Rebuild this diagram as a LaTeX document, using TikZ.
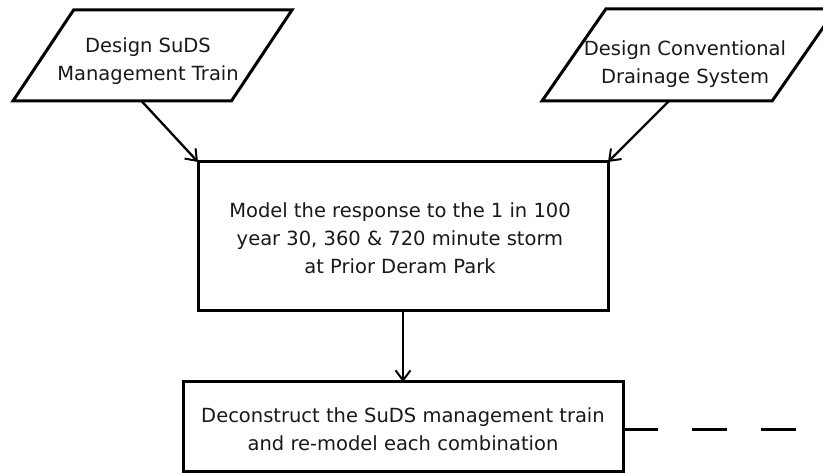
\documentclass[tikz,border=0pt]{standalone}
\usepackage{fontspec}
\setmainfont{DejaVu Sans}
\usetikzlibrary{shapes.geometric,arrows.meta,calc}
\tikzset{
  every picture/.style={x=1pt,y=-1pt},
  txt/.style={align=center,inner sep=0pt,text=black!90,font=\fontsize{19.5}{28}\selectfont},
  para/.style={draw,line width=3pt,trapezium,trapezium left angle=69,trapezium right angle=111,
    trapezium stretches=true,inner sep=2pt,outer sep=0pt,fill=white},
  procbox/.style={draw,line width=3pt,rectangle,inner sep=0pt,outer sep=0pt,fill=white},
  flow/.style={line width=2.3pt,-{Straight Barb[length=10pt,width=15pt,line width=2pt]}},
  link/.style={line width=3pt,dash pattern=on 35pt off 34pt}
}
\begin{document}
\begin{tikzpicture}
\useasboundingbox (0,0) rectangle (823,473);
\clip (0,0) rectangle (823,473);
\fill[white] (0,0) rectangle (823,473);
% parallelograms
\node[para,minimum width=279pt,minimum height=91pt] (pL) at (152.5,55.5) {};
\node[txt] (tL) at (148,61) {Design SuDS\\Management Train};
\node[para,minimum width=294pt,minimum height=92pt] (pR) at (689,55) {};
\node[txt] (tR) at (685,64) {Design Conventional\\Drainage System};
% process boxes
\node[procbox,minimum width=410pt,minimum height=149pt] (mid) at (403,236.5) {};
\node[txt] (tM) at (400,238.5) {Model the response to the 1 in 100\\year 30, 360 \& 720 minute storm\\at Prior Deram Park};
\node[procbox,minimum width=440pt,minimum height=89pt] (bot) at (403,426.5) {};
\node[txt] (tB) at (403,429) {Deconstruct the SuDS management train\\and re-model each combination};
% connectors
\draw[flow] ([xshift=-11pt]pL.south) -- (mid.north west);
\draw[flow] ([xshift=-20pt]pR.south) -- (mid.north east);
\draw[flow] (mid.south) -- (bot.north);
\coordinate (dend) at (800,429);
\draw[link] (bot.east |- dend) -- (dend);
\end{tikzpicture}
\end{document}
